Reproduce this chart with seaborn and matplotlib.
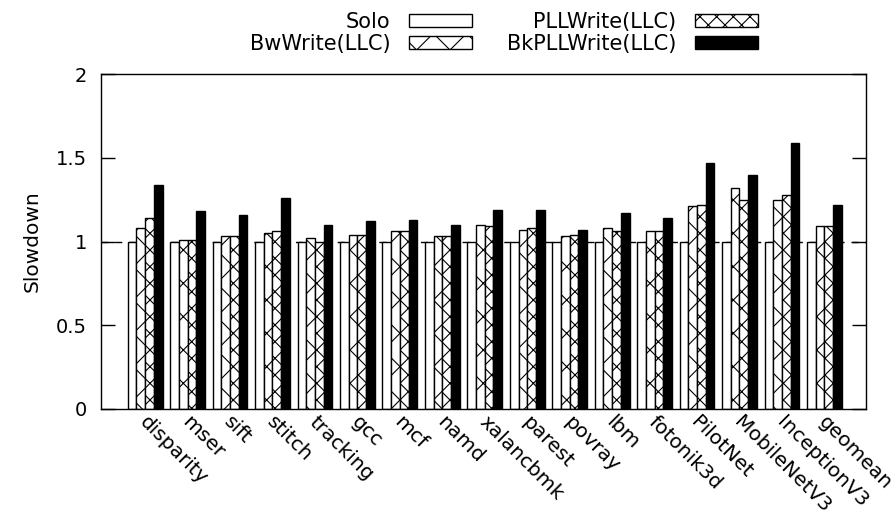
import matplotlib
matplotlib.use("Agg")
import matplotlib.pyplot as plt
from matplotlib.patches import Patch
from matplotlib.transforms import ScaledTranslation
import seaborn as sns
import pandas as pd

benchmarks = ["disparity", "mser", "sift", "stitch", "tracking", "gcc", "mcf", "namd",
              "xalancbmk", "parest", "povray", "lbm", "fotonik3d", "PilotNet",
              "MobileNetV3", "InceptionV3", "geomean"]
configs = ["Solo", "BwWrite(LLC)", "PLLWrite(LLC)", "BkPLLWrite(LLC)"]
solo = [1.0] * 17
bw_write = [1.08, 1.01, 1.03, 1.05, 1.02, 1.04, 1.06, 1.03, 1.10, 1.07, 1.03, 1.08, 1.06, 1.21, 1.32, 1.25, 1.09]
pll_write = [1.14, 1.01, 1.03, 1.06, 1.00, 1.04, 1.06, 1.03, 1.09, 1.08, 1.04, 1.06, 1.06, 1.22, 1.25, 1.28, 1.09]
bk_pll_write = [1.34, 1.185, 1.16, 1.26, 1.10, 1.12, 1.13, 1.10, 1.19, 1.19, 1.07, 1.17, 1.14, 1.47, 1.40, 1.59, 1.22]
y_ticks = [0, 0.5, 1, 1.5, 2]
y_tick_labels = ["0", "0.5", "1", "1.5", "2"]

series = [solo, bw_write, pll_write, bk_pll_write]
rows = []
for cfg, vals in zip(configs, series):
    for b, v in zip(benchmarks, vals):
        rows.append({"benchmark": b, "config": cfg, "value": v})
df = pd.DataFrame(rows)

sns.set_theme(style="white")
plt.rcParams["font.family"] = ["DejaVu Sans"]
plt.rcParams["hatch.linewidth"] = 0.8
for k in ["text.color", "axes.labelcolor", "xtick.color", "ytick.color", "axes.edgecolor"]:
    plt.rcParams[k] = "black"

fig = plt.figure(figsize=(8.95, 5.22), dpi=100)
ax = fig.add_axes([0.1128, 0.2165, 0.9676 - 0.1128, 0.8582 - 0.2165])

face = ["white", "white", "white", "black"]
hatches = ["", "x", "xx", ""]
sns.barplot(data=df, x="benchmark", y="value", hue="config", order=benchmarks,
            hue_order=configs, palette=face, width=0.82, edgecolor="black",
            linewidth=1.0, ax=ax, legend=False, zorder=2)
for cont, h in zip(ax.containers, hatches):
    for bar in cont:
        bar.set_hatch(h)
        bar.set_edgecolor("black")

ax.axhline(1.0, color="black", lw=1.0, ls=(0, (5, 5)), zorder=1)

ax.set_xlim(-1.04, 16.98)
ax.set_ylim(0, 2)
ax.set_yticks(y_ticks)
ax.set_yticklabels(y_tick_labels, fontsize=14)
ax.set_ylabel("Slowdown", fontsize=14.5, labelpad=10)
ax.set_xlabel("")
ax.tick_params(axis="y", direction="in", length=10, width=1, left=True, right=True,
               color="black", labelcolor="black", pad=10)
ax.tick_params(axis="x", length=0, pad=2.5)
ax.set_xticks(range(len(benchmarks)))
ax.set_xticklabels(benchmarks, rotation=-45, ha="left", va="top",
                   rotation_mode="anchor", fontsize=14.5)
shift = ScaledTranslation(4 / 100, 0, fig.dpi_scale_trans)
for lab in ax.get_xticklabels():
    lab.set_transform(lab.get_transform() + shift)
for sp in ax.spines.values():
    sp.set_color("black")
    sp.set_linewidth(1.0)
ax.grid(False)

handles = [Patch(facecolor=f, edgecolor="black", hatch=h, linewidth=1.0)
           for f, h in zip(face, hatches)]
fig.legend(handles, configs, ncol=2, markerfirst=False, frameon=False,
           loc="upper center", bbox_to_anchor=(0.563, 1.013), fontsize=15,
           handlelength=3.0, handleheight=0.55, handletextpad=0.9,
           columnspacing=1.7, labelspacing=0.1)

fig.savefig("out.png", dpi=100)
